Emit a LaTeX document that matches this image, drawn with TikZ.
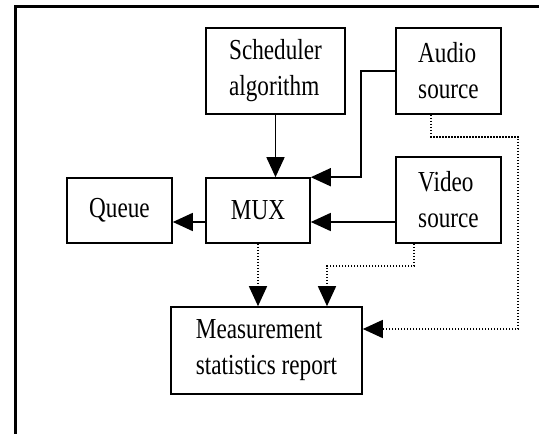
\documentclass[tikz,border=0pt]{standalone}
\usepackage{fontspec}
\setmainfont{Liberation Serif}[FakeStretch=0.8]
\usetikzlibrary{arrows.meta}
\tikzset{
  blk/.style={draw, line width=1.6pt, inner sep=0pt, align=left, font=\fontsize{29}{36}\selectfont},
  arr/.style={line width=1.6pt, -{Triangle[length=20pt,width=18pt]}},
  darr/.style={line width=1.5pt, dash pattern=on 1.5pt off 1.5pt, -{Triangle[length=20pt,width=18pt]}},
}
\begin{document}
\begin{tikzpicture}[x=1pt,y=-1pt]
\useasboundingbox (0,0) rectangle (539,434);
\draw[line width=3pt] (15,434) -- (15,6) -- (539,6);
\node[blk, minimum width=139pt, minimum height=86pt] (sched) at (275.5,71) {Scheduler\\algorithm};
\node[blk, minimum width=105pt, minimum height=86pt] (audio) at (448.5,71) {Audio\\source};
\node[blk, minimum width=105pt, minimum height=86pt] (video) at (448.5,200) {Video\\source};
\node[blk, minimum width=104pt, minimum height=65pt] (mux) at (258,210.5) {MUX};
\node[blk, minimum width=105pt, minimum height=65pt] (queue) at (119.5,210.5) {Queue};
\node[blk, minimum width=191pt, minimum height=87pt] (meas) at (266.5,350.5) {Measurement\\statistics report};
\coordinate (v) at ([yshift=-22pt]video.west);
\coordinate (r) at (518,329);
\draw[arr] (sched.south) -- (sched.south |- mux.north);
\draw[arr] (audio.west) -- ++(-34,0) |- (mux.north east);
\draw[arr] (v) -- (v -| mux.east);
\draw[arr] ([yshift=-11.5pt]mux.west) -- ([yshift=-11.5pt]queue.east);
\draw[darr] (mux.south) -- (mux.south |- meas.north);
\draw[darr] ([xshift=-34.5pt]video.south) -- ++(0,22) -| ([xshift=60.5pt]meas.north);
\draw[darr] ([xshift=-17.5pt]audio.south) -- ++(0,22) -| (r) -- ([yshift=21.5pt]meas.east);
\end{tikzpicture}
\end{document}
